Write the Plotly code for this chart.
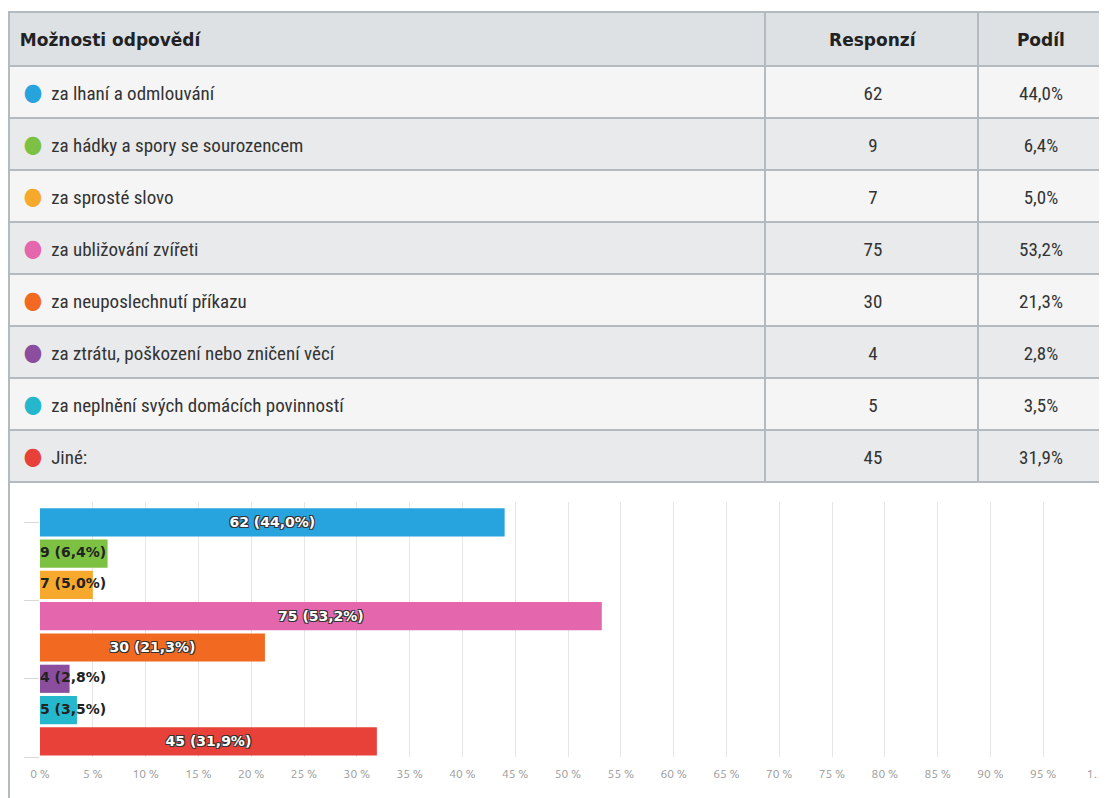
import plotly.graph_objects as go

categories = [
    "za lhaní a odmlouvání",
    "za hádky a spory se sourozencem",
    "za sprosté slovo",
    "za ubližování zvířeti",
    "za neuposlechnutí příkazu",
    "za ztrátu, poškození nebo zničení věcí",
    "za neplnění svých domácích povinností",
    "Jiné:",
]
counts = [62, 9, 7, 75, 30, 4, 5, 45]
shares = [44.0, 6.4, 5.0, 53.2, 21.3, 2.8, 3.5, 31.9]
colors = ["#27a3dd", "#7dc143", "#f6a92d", "#e466ac", "#f26a21", "#8b4e9e", "#25b8cd", "#e8413a"]
x_tickvals = list(range(0, 101, 5))
x_ticktext = [f"{v} %" for v in range(0, 100, 5)] + ["1…"]
header_labels = ["Možnosti odpovědí", "Responzí", "Podíl"]

# page has an 8px body margin: figure is placed at (8, 8) in the window
OFF = 8
W, H = 1107 - OFF, 798 - OFF


def px(x):
    return (x - OFF) / W


def py(y):
    return 1 - (y - OFF) / H


TABLE_FONT = "Ubuntu Condensed, Liberation Sans Narrow, Roboto Condensed, DejaVu Sans Condensed, Roboto, sans-serif"
HEAD_FONT = "DejaVu Sans, sans-serif"
BAR_FONT = "DejaVu Sans, sans-serif"
SP = '<span style="font-size:28px;color:rgba(0,0,0,0)">\u200a</span>'


def cell(t):
    # trailing <br> disables plotly's word-wrapping so the spans stay intact
    return f"{SP}{t}<br>"


def fmt(v):
    return f"{v:.1f}".replace(".", ",")


labels = [f"{c} ({fmt(s)}%)" for c, s in zip(counts, shares)]
first_col = [
    cell(f'\u2009<span style="color:{col};font-size:24px">●</span>\u00a0\u00a0{cat}')
    for col, cat in zip(colors, categories)
]
row_fill = ["#f5f5f5" if i % 2 == 0 else "#e8eaeb" for i in range(len(categories))]

fig = go.Figure()

fig.add_trace(go.Table(
    domain=dict(x=[px(9), px(1101)], y=[py(492), py(12)]),
    columnwidth=[756, 213, 123],
    header=dict(
        values=[cell(f"<b>{h}</b>") for h in header_labels],
        align=["left", "center", "center"],
        fill_color="#dde1e4",
        line=dict(color="#b3bbc0", width=2),
        font=dict(family=HEAD_FONT, size=17, color="#222"),
        height=54,
    ),
    cells=dict(
        values=[first_col,
                [cell(c) for c in counts],
                [cell(f"{fmt(s)}%") for s in shares]],
        align=["left", "center", "center"],
        fill_color=[row_fill, row_fill, row_fill],
        line=dict(color="#b3bbc0", width=2),
        font=dict(family=TABLE_FONT, size=19, color="#333"),
        height=52,
    ),
))

big = [s > 15 for s in shares]
fig.add_trace(go.Bar(
    x=shares,
    y=list(range(len(categories))),
    orientation="h",
    width=0.9,
    marker=dict(color=colors, line=dict(width=0)),
    text=[l if b else "" for l, b in zip(labels, big)],
    textposition="inside",
    insidetextanchor="middle",
    textangle=0,
    constraintext="none",
    textfont=dict(family=BAR_FONT, size=14, color="white", weight="bold",
                  shadow="-1px -1px 0 #333, 1px -1px 0 #333, -1px 1px 0 #333, 1px 1px 0 #333"),
    hoverinfo="skip",
    showlegend=False,
))

fig.add_trace(go.Scatter(
    x=[0 for b in big if not b],
    y=[i for i, b in enumerate(big) if not b],
    mode="text",
    text=[l for l, b in zip(labels, big) if not b],
    textposition="middle right",
    textfont=dict(family=BAR_FONT, size=14, color="#222", weight="bold"),
    hoverinfo="skip",
    showlegend=False,
))

fig.update_layout(
    width=W, height=H,
    margin=dict(l=0, r=0, t=0, b=0, autoexpand=False),
    paper_bgcolor="white",
    plot_bgcolor="white",
    showlegend=False,
    xaxis=dict(
        domain=[px(40), px(1096)],
        range=[0, 100],
        tickvals=x_tickvals,
        ticktext=x_ticktext,
        showgrid=True,
        gridcolor="#e6e6e6",
        gridwidth=1,
        zeroline=False,
        showline=False,
        ticks="outside",
        ticklen=6,
        tickcolor="rgba(0,0,0,0)",
        tickfont=dict(family="Ubuntu, Open Sans, sans-serif", size=12, color="#9a9a9a"),
        automargin=False,
        fixedrange=True,
    ),
    yaxis=dict(
        domain=[py(757), py(502)],
        range=[7.5, -0.65],
        tickvals=[0, 2.5, 5, 7.5],
        ticktext=["", "", "", ""],
        ticks="outside",
        ticklen=15,
        tickcolor="#d8d8d8",
        showgrid=False,
        zeroline=False,
        showline=False,
        automargin=False,
        fixedrange=True,
    ),
    shapes=[dict(type="line", xref="paper", yref="paper",
                 x0=px(9), x1=px(9), y0=0, y1=py(482),
                 line=dict(color="#b3bbc0", width=2))],
)

fig.write_html("out.html")
